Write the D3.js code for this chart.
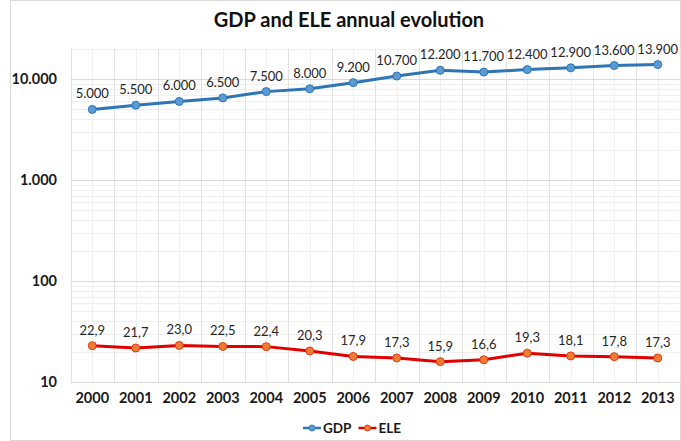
<!DOCTYPE html>
<html>
<head>
<meta charset="utf-8">
<script src="https://cdn.jsdelivr.net/npm/d3@7"></script>
<style>
  html, body { margin: 0; padding: 0; background: #fff; }
  svg { display: block; font-family: Lato, "Open Sans", sans-serif; }
</style>
</head>
<body>
<svg id="chart" width="681" height="441"></svg>
<script>
// Annual series
const years = ["2000","2001","2002","2003","2004","2005","2006","2007","2008","2009","2010","2011","2012","2013"];
const gdp = [5000, 5500, 6000, 6500, 7500, 8000, 9200, 10700, 12200, 11700, 12400, 12900, 13600, 13900];
const ele = [22.9, 21.7, 23.0, 22.5, 22.4, 20.3, 17.9, 17.3, 15.9, 16.6, 19.3, 18.1, 17.8, 17.3];
const yTicks = [10, 100, 1000, 10000];
const seriesNames = ["GDP", "ELE"];

const svg = d3.select("#chart");
const W = 681, H = 441;
const margin = { left: 70.5, right: 1.5, top: 48.6, bottom: 59 };

// chart frame
svg.append("rect").attr("x", 10.5).attr("y", 0.5).attr("width", W - 11).attr("height", H - 1)
  .attr("fill", "#fff").attr("stroke", "#d9d9d9").attr("stroke-width", 1);

const x = d3.scaleBand().domain(years).range([margin.left, W - margin.right]);
const y = d3.scaleLog().domain([10, 20000]).range([H - margin.bottom, margin.top]);

const fmtGdp = v => d3.format(",")(v).replace(/,/g, ".");
const fmtEle = v => v.toFixed(1).replace(".", ",");

const grid = svg.append("g");
// minor horizontal gridlines (2..9 per decade)
const minor = [];
for (let p = 10; p < 20000; p *= 10) {
  for (let k = 2; k <= 9; k++) { const v = p * k; if (v <= 20000) minor.push(v); }
}
grid.selectAll(".hmin").data(minor).join("line")
  .attr("x1", margin.left).attr("x2", W - margin.right)
  .attr("y1", d => Math.round(y(d)) + 0.5).attr("y2", d => Math.round(y(d)) + 0.5)
  .attr("stroke", "#f0f0f0").attr("stroke-width", 1);
// minor vertical gridlines at category centres
grid.selectAll(".vmin").data(years).join("line")
  .attr("x1", d => Math.round(x(d) + x.bandwidth() / 2) + 0.5)
  .attr("x2", d => Math.round(x(d) + x.bandwidth() / 2) + 0.5)
  .attr("y1", y(20000)).attr("y2", y(10))
  .attr("stroke", "#f0f0f0").attr("stroke-width", 1);
// major vertical gridlines at category boundaries
grid.selectAll(".vmaj").data(years.concat(["end"])).join("line")
  .attr("x1", (d, i) => Math.round(margin.left + i * x.step()) + 0.5)
  .attr("x2", (d, i) => Math.round(margin.left + i * x.step()) + 0.5)
  .attr("y1", y(20000)).attr("y2", y(10))
  .attr("stroke", "#e2e2e2").attr("stroke-width", 1);
// major horizontal gridlines
grid.selectAll(".hmaj").data(yTicks).join("line")
  .attr("x1", margin.left).attr("x2", W - margin.right)
  .attr("y1", d => Math.round(y(d)) + 0.5).attr("y2", d => Math.round(y(d)) + 0.5)
  .attr("stroke", "#d9d9d9").attr("stroke-width", 1);

// y axis
const yAxis = d3.axisLeft(y).tickValues(yTicks).tickSize(0).tickPadding(0)
  .tickFormat(d => fmtGdp(d));
svg.append("g").attr("transform", `translate(57,0)`).call(yAxis)
  .call(g => g.select(".domain").remove())
  .selectAll("text").attr("font-size", 14.5).attr("font-weight", "bold")
  .attr("fill", "#1a1a1a").attr("font-family", "Lato, sans-serif");

// x axis
const xAxis = d3.axisBottom(x).tickSize(0).tickPadding(0);
svg.append("g").attr("transform", `translate(0,${y(10) + 11})`).call(xAxis)
  .call(g => g.select(".domain").remove())
  .selectAll("text").attr("font-size", 14.5).attr("font-weight", "bold")
  .attr("fill", "#1a1a1a").attr("font-family", "Lato, sans-serif");

const cx = d => x(d) + x.bandwidth() / 2;
const series = [
  { name: "GDP", values: gdp, line: "#2e75b6", fill: "#5b9bd5", stroke: "#2e75b6", fmt: fmtGdp },
  { name: "ELE", values: ele, line: "#e00000", fill: "#ed7d31", stroke: "#e23a1a", fmt: fmtEle }
];

const line = d3.line().x(d => cx(d.year)).y(d => y(d.v));
series.forEach(s => {
  const pts = years.map((yr, i) => ({ year: yr, v: s.values[i] }));
  const g = svg.append("g");
  g.append("path").datum(pts).attr("d", line)
    .attr("fill", "none").attr("stroke", s.line).attr("stroke-width", 3)
    .attr("stroke-linejoin", "round").attr("stroke-linecap", "round");
  g.selectAll("circle").data(pts).join("circle")
    .attr("cx", d => cx(d.year)).attr("cy", d => y(d.v)).attr("r", 4)
    .attr("fill", s.fill).attr("stroke", s.stroke).attr("stroke-width", 1);
  g.selectAll("text").data(pts).join("text")
    .attr("x", d => cx(d.year)).attr("y", d => y(d.v) - 11)
    .attr("text-anchor", "middle").attr("font-size", 13).attr("fill", "#262626")
    .text(d => s.fmt(d.v));
});

// title
svg.append("text").attr("x", 349).attr("y", 27).attr("text-anchor", "middle")
  .attr("font-size", 20).attr("font-weight", "bold").attr("fill", "#111")
  .text("GDP and ELE annual evolution");

// legend
const legend = svg.append("g").attr("transform", "translate(303,428)");
let lx = 0;
series.forEach(s => {
  const item = legend.append("g").attr("transform", `translate(${lx},0)`);
  item.append("line").attr("x1", 0).attr("x2", 18).attr("y1", 0).attr("y2", 0)
    .attr("stroke", s.line).attr("stroke-width", 2.5);
  item.append("circle").attr("cx", 9).attr("cy", 0).attr("r", 3)
    .attr("fill", s.fill).attr("stroke", s.stroke).attr("stroke-width", 1);
  const t = item.append("text").attr("x", 20).attr("y", 5).attr("font-size", 13.5)
    .attr("font-weight", "bold").attr("fill", "#1a1a1a").text(s.name);
  lx += 20 + t.node().getComputedTextLength() + 7;
});
</script>
</body>
</html>
